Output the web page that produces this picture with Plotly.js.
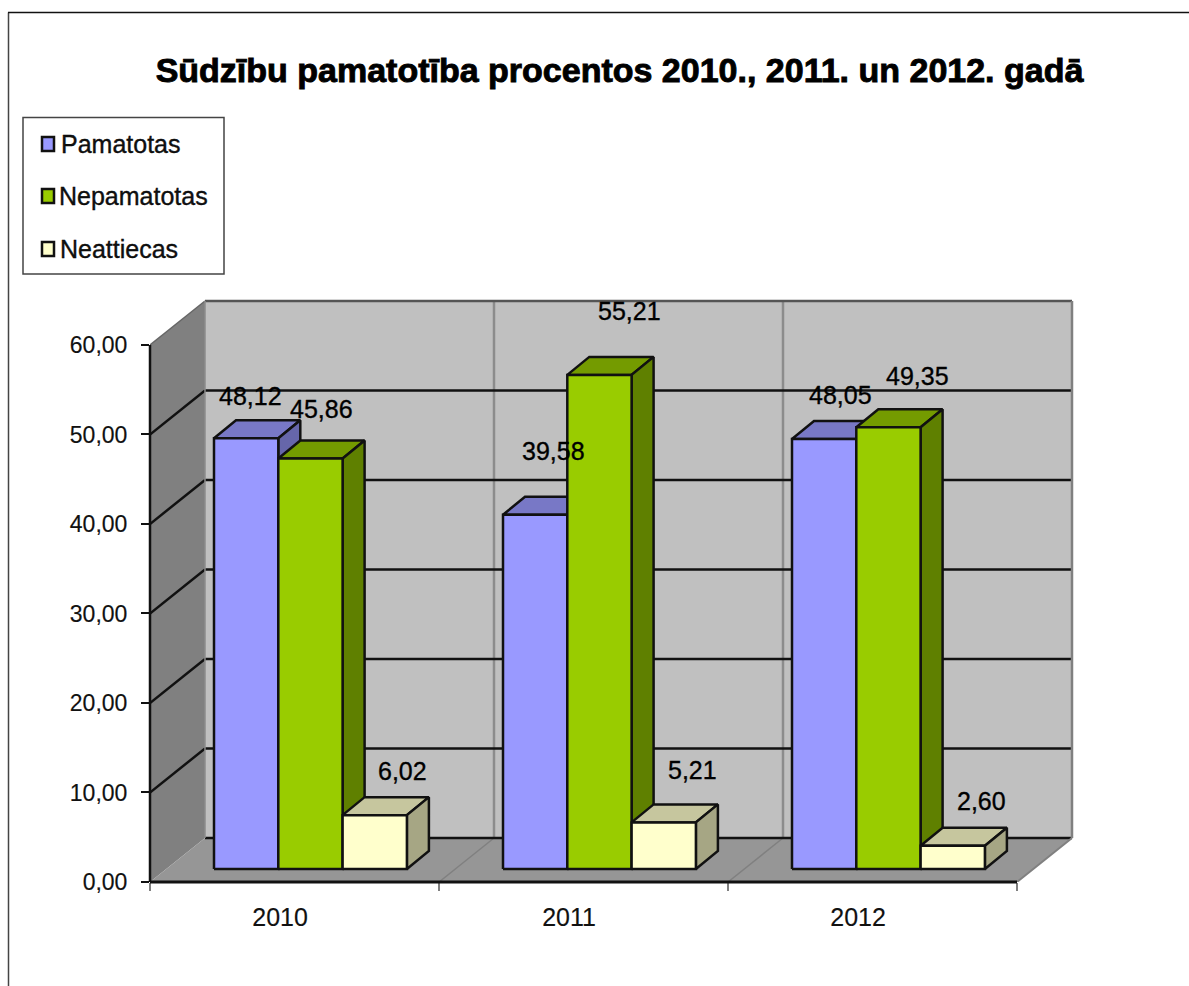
<!DOCTYPE html>
<html>
<head>
<meta charset="utf-8">
<script src="https://cdn.plot.ly/plotly-3.0.1.min.js"></script>
<style>
html,body{margin:0;padding:0;background:#fff;overflow:hidden}
/* Heavier text weight for the title, labels and ticks */
#chart .gtitle{stroke:#000;stroke-width:.9px}
#chart .annotation-text{stroke:#000;stroke-width:.35px}
#chart .xtick text,#chart .ytick text{stroke:#111;stroke-width:.15px}
</style>
</head>
<body>
<div id="chart" style="width:1189px;height:986px"></div>
<script>
// Complaint justification shares per year
const years = ['2010', '2011', '2012'];
const seriesNames = ['Pamatotas', 'Nepamatotas', 'Neattiecas'];
const pamatotas = [48.12, 39.58, 48.05];
const nepamatotas = [45.86, 55.21, 49.35];
const neattiecas = [6.02, 5.21, 2.60];
const yTicks = [0, 10, 20, 30, 40, 50, 60];
const chartTitle = 'Sūdzību pamatotība procentos 2010., 2011. un 2012. gadā';

// Page and scale setup, in pixels
const W = 1189, H = 986;
const FONT = '"Liberation Sans", Arial, sans-serif';
const x0Px = 150, y0Px = 882, catPx = 289, unitPx = 8.95;
const xMax = 3.2, yMax = 65.3;

// Oblique projection: wall depth and bar depth, in axis units
const wallDx = 55 / catPx, wallDy = 44 / unitPx;
const barDx = 22 / catPx, barDy = 18 / unitPx;
const barInset = 64 / catPx, barW = 64.3 / catPx, barBase = 13 / unitPx;

const styles = [
  {front: '#9999FF', top: '#7878C6', side: '#6666AA'},
  {front: '#99CC00', top: '#749B00', side: '#5F8000'},
  {front: '#FFFFCC', top: '#C6C69E', side: '#A6A684'}
];
const seriesValues = [pamatotas, nepamatotas, neattiecas];

// Per-label placement relative to the top of each bar's front face, in pixels
const labelShiftX = [[4, 11, 28], [18, 30, 29], [16, 29, 29]];
const labelShiftY = [[42, 50, 44], [64, 64, 52], [44, 51, 45]];

const px = v => v / W;
const py = v => 1 - v / H;

function face(xs, ys, fill) {
  return {
    type: 'scatter', mode: 'lines', x: xs.concat(xs[0]), y: ys.concat(ys[0]),
    fill: 'toself', fillcolor: fill, line: {color: '#111', width: 2.5, shape: 'linear'},
    hoverinfo: 'skip', showlegend: false, cliponaxis: false
  };
}

// Bars are painted left to right so that each hides the side of its neighbour
const traces = [];
const annotations = [];
years.forEach((year, c) => {
  seriesValues.forEach((values, s) => {
    const xa = c + barInset + s * barW, xb = xa + barW;
    const yb = barBase, yt = barBase + values[c];
    const st = styles[s];
    traces.push(face([xa, xb, xb + barDx, xa + barDx], [yt, yt, yt + barDy, yt + barDy], st.top));
    traces.push(face([xb, xb + barDx, xb + barDx, xb], [yb, yb + barDy, yt + barDy, yt], st.side));
    traces.push(face([xa, xb, xb, xa], [yb, yb, yt, yt], st.front));
    annotations.push({
      x: (xa + xb) / 2, y: yt, xref: 'x', yref: 'y', showarrow: false,
      xanchor: 'center', yanchor: 'middle',
      xshift: labelShiftX[c][s], yshift: labelShiftY[c][s],
      text: values[c].toFixed(2).replace('.', ','),
      font: {family: FONT, size: 25, color: '#000'}
    });
  });
});

// Walls and floor of the 3D box
function poly(points, fill, line) {
  const path = points.map((p, i) => (i ? 'L' : 'M') + p[0] + ',' + p[1]).join(' ') + ' Z';
  return {type: 'path', xref: 'x', yref: 'y', layer: 'below', path, fillcolor: fill,
          line: line || {width: 0}};
}
function seg(x0, y0, x1, y1, color, width) {
  return {type: 'line', xref: 'x', yref: 'y', layer: 'below', x0, y0, x1, y1,
          line: {color, width}};
}
const shapes = [];
const nCat = years.length, topTick = yTicks[yTicks.length - 1];
shapes.push(poly([[wallDx, wallDy], [nCat + wallDx, wallDy], [nCat + wallDx, topTick + wallDy], [wallDx, topTick + wallDy]], '#C0C0C0'));
shapes.push(poly([[0, 0], [wallDx, wallDy], [wallDx, topTick + wallDy], [0, topTick]], '#808080'));
shapes.push(poly([[0, 0], [nCat, 0], [nCat + wallDx, wallDy], [wallDx, wallDy]], '#969696'));

// Vertical and floor gridlines at category boundaries
for (let c = 1; c < nCat; c++) {
  shapes.push(seg(c + wallDx, wallDy, c + wallDx, topTick + wallDy, '#8C8C8C', 2.5));
  shapes.push(seg(c, 0, c + wallDx, wallDy, '#808080', 1.5));
}
// Value gridlines across the side and back walls
yTicks.forEach(t => {
  if (t === topTick) return;
  if (t > 0) shapes.push(seg(0, t, wallDx, t + wallDy, '#111', 2.5));
  shapes.push(seg(wallDx, t + wallDy, nCat + wallDx, t + wallDy, '#111', 2.5));
});
// Outer edges of the box
shapes.push(seg(wallDx, topTick + wallDy, nCat + wallDx, topTick + wallDy, '#555', 2.5));
shapes.push(seg(0, topTick, wallDx, topTick + wallDy, '#666', 1.5));
shapes.push(seg(nCat + wallDx, wallDy, nCat + wallDx, topTick + wallDy, '#808080', 2.5));
shapes.push(seg(nCat, 0, nCat + wallDx, wallDy, '#808080', 2));
shapes.push(seg(wallDx, wallDy, wallDx, topTick + wallDy, '#8C8C8C', 1.5));

// Axis lines: kept to the tick span rather than the full plot area
shapes.push({type: 'line', xref: 'paper', yref: 'y', x0: px(x0Px), x1: px(x0Px), y0: 0, y1: topTick,
             line: {color: '#111', width: 2.5}});
shapes.push({type: 'line', xref: 'x', yref: 'paper', x0: 0, x1: nCat, y0: py(y0Px), y1: py(y0Px),
             line: {color: '#111', width: 3}});

// Outer frame of the chart
shapes.push({type: 'line', xref: 'paper', yref: 'paper', x0: px(8.5), x1: px(8.5), y0: py(12.5), y1: 0,
             line: {color: '#444', width: 1.5}});
shapes.push({type: 'line', xref: 'paper', yref: 'paper', x0: px(8), x1: 1, y0: py(12.5), y1: py(12.5),
             line: {color: '#111', width: 1.5}});

// Legend box with swatches and labels
const rect = (l, t, r, b, fill, lineColor, lw) => ({
  type: 'rect', xref: 'paper', yref: 'paper', x0: px(l), x1: px(r), y0: py(b), y1: py(t),
  fillcolor: fill, line: {color: lineColor, width: lw}
});
shapes.push(rect(23, 117.5, 224, 274, '#fff', '#444', 1.5));
const legendY = [144, 196, 249];
const legendX = [58.5, 57, 57.5];
seriesNames.forEach((name, s) => {
  shapes.push(rect(42, legendY[s] - 7, 54, legendY[s] + 7, styles[s].front, '#111', 2.5));
  annotations.push({
    xref: 'paper', yref: 'paper', x: px(legendX[s]), y: py(legendY[s]), showarrow: false,
    xanchor: 'left', yanchor: 'middle', text: name,
    font: {family: FONT, size: 25, color: '#111'}
  });
});

const layout = {
  width: W, height: H, autosize: false,
  margin: {l: 0, r: 0, t: 0, b: 0, pad: 0},
  paper_bgcolor: '#fff', plot_bgcolor: 'rgba(0,0,0,0)',
  showlegend: false,
  separators: ',.',
  title: {
    text: '<b>' + chartTitle + '</b>', xref: 'paper', yref: 'paper',
    x: px(619.5), xanchor: 'center', y: py(70), yanchor: 'middle',
    font: {family: FONT, size: 34, color: '#000'}
  },
  xaxis: {
    domain: [px(x0Px), px(x0Px + xMax * catPx)], range: [0, xMax], fixedrange: true,
    showgrid: false, zeroline: false, showline: false,
    tickmode: 'array', tickvals: years.map((_, i) => i + 0.45), ticktext: years, ticks: '',
    ticklabelstandoff: 18,
    tickfont: {family: FONT, size: 25, color: '#111'},
    minor: {tickmode: 'array', tickvals: [0, 1, 2, 3], ticks: 'outside', ticklen: 8,
            tickwidth: 2, tickcolor: '#808080', showgrid: false}
  },
  yaxis: {
    domain: [py(y0Px), py(y0Px - yMax * unitPx)], range: [0, yMax], fixedrange: true,
    showgrid: false, zeroline: false, showline: false,
    tickmode: 'array', tickvals: yTicks, tickformat: '.2f', ticks: 'outside', ticklen: 8,
    tickwidth: 2, tickcolor: '#111', ticklabelstandoff: 9,
    tickfont: {family: FONT, size: 23, color: '#111'}
  },
  shapes, annotations
};

Plotly.newPlot('chart', traces, layout, {displayModeBar: false, staticPlot: true});
</script>
</body>
</html>
